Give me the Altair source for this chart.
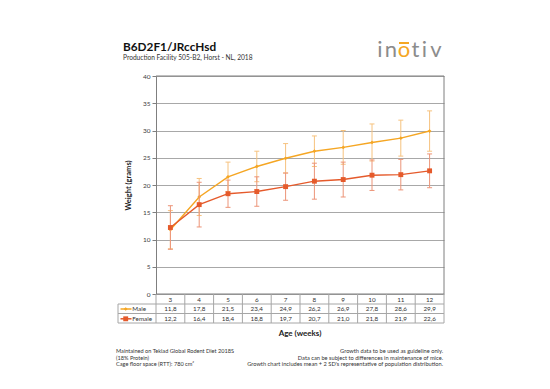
import altair as alt
import pandas as pd

weeks = [3, 4, 5, 6, 7, 8, 9, 10, 11, 12]
male_mean = [11.8, 17.8, 21.5, 23.4, 24.9, 26.2, 26.9, 27.8, 28.6, 29.9]
female_mean = [12.2, 16.4, 18.4, 18.8, 19.7, 20.7, 21.0, 21.8, 21.9, 22.6]
male_2sd = [3.5, 3.4, 2.7, 2.8, 2.7, 2.8, 3.1, 3.4, 3.3, 3.7]
female_2sd = [4.0, 4.1, 2.5, 2.7, 2.5, 3.3, 3.2, 2.8, 2.8, 3.1]
y_ticks = [0, 5, 10, 15, 20, 25, 30, 35, 40]

MALE_C, MALE_E = "#F5A623", "#F6C27E"
FEM_C, FEM_E = "#E55A2B", "#EC9478"
FRAME = "#7f7f7f"
TLINE = "#a6a6a6"
FONT = "Lato"

W, H = 288, 218

def make_df(means, sds):
    return pd.DataFrame({
        "week": weeks,
        "mean": means,
        "lo": [m - s for m, s in zip(means, sds)],
        "hi": [m + s for m, s in zip(means, sds)],
        "label": [f"{m:.1f}".replace(".", ",") for m in means],
    })

dm = make_df(male_mean, male_2sd)
dfm = make_df(female_mean, female_2sd)

xs = alt.Scale(domain=[2.5, 12.5], nice=False, zero=False)
ys = alt.Scale(domain=[0, 40], nice=False)
yaxis = alt.Axis(values=y_ticks, tickCount=9, grid=True, gridColor="#a8a8a8", gridWidth=1,
                 domainColor=FRAME, tickColor=FRAME, tickSize=4, labelOverlap=False,
                 labelFontSize=6.5, labelColor="#404040", labelPadding=2,
                 labelFont=FONT, titleFont=FONT, titleFontSize=7.5,
                 titleFontWeight="bold", titleColor="#222", titlePadding=10)

def X(field="week"):
    return alt.X(f"{field}:Q", scale=xs, axis=None)

def Y(field):
    return alt.Y(f"{field}:Q", scale=ys, axis=yaxis, title="Weight (grams)")

layers = []
layers.append(alt.Chart(dm).mark_point(opacity=0).encode(x=X(), y=Y("mean")))

def series(d, c, e, shape, size):
    out = []
    out.append(alt.Chart(d).mark_rule(color=e, strokeWidth=1).encode(
        x=X(), y=Y("lo"), y2="hi:Q"))
    for f in ["lo", "hi"]:
        out.append(alt.Chart(d).mark_rule(color=e, strokeWidth=1, xOffset=-2.5, x2Offset=2.5).encode(
            x=X(), x2="week:Q", y=Y(f)))
    out.append(alt.Chart(d).mark_line(color=c, strokeWidth=1.4).encode(
        x=X(), y=Y("mean")))
    out.append(alt.Chart(d).mark_point(color=c, filled=True, shape=shape, size=size, opacity=1).encode(
        x=X(), y=Y("mean")))
    return out

layers += series(dm, MALE_C, MALE_E, "diamond", 14)
layers += series(dfm, FEM_C, FEM_E, "square", 24)

def txt(t, x, y, size, align="left", bold=False, color="#222", baseline="alphabetic"):
    return alt.Chart(pd.DataFrame({"t": [t]})).mark_text(
        align=align, baseline=baseline, fontSize=size, font=FONT, color=color,
        fontWeight="bold" if bold else "normal").encode(
        x=alt.value(x), y=alt.value(y), text="t:N")

def hline(y, x1, x2, color=TLINE, w=1):
    return alt.Chart(pd.DataFrame({"a": [0]})).mark_rule(color=color, strokeWidth=w).encode(
        x=alt.value(x1), x2=alt.value(x2), y=alt.value(y))

def vline(x, y1, y2, color=TLINE, w=1):
    return alt.Chart(pd.DataFrame({"a": [0]})).mark_rule(color=color, strokeWidth=w).encode(
        x=alt.value(x), y=alt.value(y1), y2=alt.value(y2))

# frame
layers.append(hline(0, 0, W, FRAME))
layers.append(vline(W, 0, H, FRAME))
layers.append(hline(H, 0, W, FRAME))

# data table
bounds = pd.DataFrame({"b": [w - 0.5 for w in weeks] + [weeks[-1] + 0.5]})
layers.append(alt.Chart(bounds).mark_rule(color=TLINE, strokeWidth=1).encode(
    x=X("b"), y=alt.value(H), y2=alt.value(247)))
layers.append(vline(-38, 228, 247))
layers.append(hline(228, -38, W))
layers.append(hline(237.5, -38, W))
layers.append(hline(247, -38, W))

layers.append(alt.Chart(dm).mark_text(fontSize=6.3, font=FONT, color="#333", baseline="middle").encode(
    x=X(), y=alt.value(223.5), text="week:N"))
layers.append(alt.Chart(dm).mark_text(fontSize=6.3, font=FONT, color="#333", baseline="middle").encode(
    x=X(), y=alt.value(233), text="label:N"))
layers.append(alt.Chart(dfm).mark_text(fontSize=6.3, font=FONT, color="#333", baseline="middle").encode(
    x=X(), y=alt.value(242.8), text="label:N"))

# table legend keys
for yy, c, shape, size, name in [(233, MALE_C, "diamond", 14, "Male"), (242.8, FEM_C, "square", 24, "Female")]:
    layers.append(hline(yy, -35.5, -24.5, c, 1.5))
    layers.append(alt.Chart(pd.DataFrame({"a": [0]})).mark_point(
        color=c, filled=True, shape=shape, size=size, opacity=1).encode(x=alt.value(-30.3), y=alt.value(yy)))
    layers.append(txt(name, -23.7, yy, 6.3, baseline="middle", color="#333"))

# titles and notes
layers.append(txt("Age (weeks)", W / 2, 260, 8, align="center", bold=True))
layers.append(txt("B6D2F1/JRccHsd", -33, -25, 11.8, bold=True, color="#111"))
layers.append(txt("Production Facility 505-B2, Horst - NL, 2018", -33, -16.5, 6.6, color="#333"))

left_notes = ["Maintained on Teklad Global Rodent Diet 2018S", "(18% Protein)", "Cage floor space (RTT): 780 cm\u00b2"]
right_notes = ["Growth data to be used as guideline only.",
               "Data can be subject to differences in maintenance of mice.",
               "Growth chart includes mean + 2 SD's representative of population distribution."]
for i, t in enumerate(left_notes):
    layers.append(txt(t, -40, 277 + 6.5 * i, 5.6, color="#333"))
for i, t in enumerate(right_notes):
    layers.append(txt(t, 287, 277 + 6.5 * i, 5.7, align="right", color="#333"))

# logo
logo_letters = ["i", "n", "o", "t", "i", "v"]
logo_x = [224, 235, 248, 259.5, 268.5, 280]
for ch, lx in zip(logo_letters, logo_x):
    layers.append(txt(ch, lx, -19, 22, align="center", color=MALE_C if ch == "o" else "#8c8c8c"))
layers.append(hline(-33, 243, 253, MALE_C, 2))

chart = alt.layer(*layers).properties(
    width=W, height=H,
    autosize=alt.AutoSizeParams(type="none"),
    padding={"left": 148, "top": 68, "right": 98, "bottom": 87},
).configure_view(stroke=None)

chart.save("out.html", embed_options={"renderer": "svg", "actions": False})
